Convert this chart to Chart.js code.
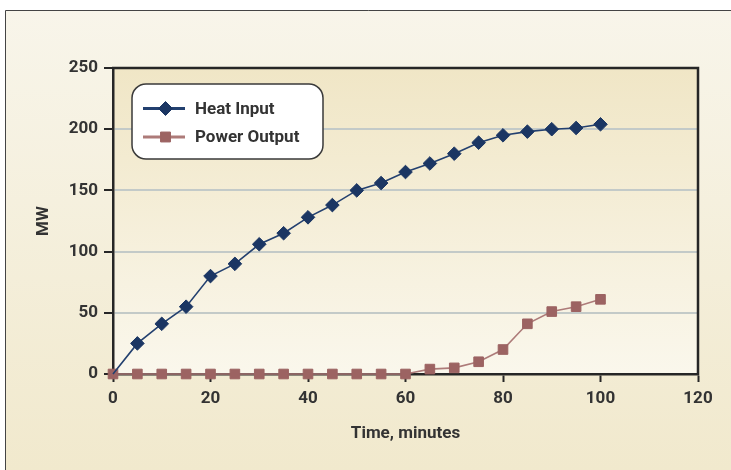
<!DOCTYPE html>
<html>
<head>
<meta charset="utf-8">
<script src="https://cdn.jsdelivr.net/npm/chart.js@4/dist/chart.umd.min.js"></script>
<style>
  html, body { margin: 0; padding: 0; background: #ffffff; }
  #wrap { width: 731px; height: 470px; position: relative; }
</style>
</head>
<body>
<div id="wrap"><canvas id="c" width="731" height="470"></canvas></div>
<script>
const timeMinutes = [0,5,10,15,20,25,30,35,40,45,50,55,60,65,70,75,80,85,90,95,100];
const heatInput   = [0,25,41,55,80,90,106,115,128,138,150,156,165,172,180,189,195,198,200,201,204];
const powerOutput = [0,0,0,0,0,0,0,0,0,0,0,0,0,4,5,10,20,41,51,55,61];
const seriesNames = ['Heat Input', 'Power Output'];
const xTicks = [0,20,40,60,80,100,120];
const yTicks = [0,50,100,150,200,250];
const xTitle = 'Time, minutes';
const yTitle = 'MW';

const FONT = "Roboto, 'Liberation Sans', sans-serif";
const TXT = '#333333';
const HEAT = '#1b3663';
const HEAT_LINE = '#23406f';
const POWER = '#9c6362';
const POWER_LINE = '#ad7b79';

const bgPlugin = {
  id: 'bg',
  beforeDraw(chart) {
    const ctx = chart.ctx, W = chart.width, H = chart.height, a = chart.chartArea;
    ctx.save();
    ctx.fillStyle = '#ffffff';
    ctx.fillRect(0, 0, W, H);
    const g = ctx.createLinearGradient(0, 10, 0, H);
    g.addColorStop(0, '#f8f5ea');
    g.addColorStop(1, '#f1e9cd');
    ctx.fillStyle = g;
    ctx.fillRect(5, 10, W, H);
    ctx.strokeStyle = '#444444';
    ctx.lineWidth = 1;
    ctx.beginPath();
    ctx.moveTo(5.5, H + 5); ctx.lineTo(5.5, 10.5); ctx.lineTo(W + 5, 10.5);
    ctx.stroke();
    const pg = ctx.createLinearGradient(0, a.top, 0, a.bottom);
    pg.addColorStop(0, '#f0e6c6');
    pg.addColorStop(1, '#faf7ec');
    ctx.fillStyle = pg;
    ctx.fillRect(a.left, a.top, a.right - a.left, a.bottom - a.top);
    ctx.restore();
  },
  beforeDatasetsDraw(chart) {
    const ctx = chart.ctx, a = chart.chartArea;
    ctx.save();
    ctx.strokeStyle = '#262626';
    ctx.lineWidth = 2.5;
    ctx.beginPath();
    ctx.moveTo(a.left - 1, a.top);
    ctx.lineTo(a.right, a.top);
    ctx.lineTo(a.right, a.bottom + 1);
    ctx.stroke();
    ctx.restore();
  },
  afterDatasetsDraw(chart) {
    const ctx = chart.ctx;
    const bx = 132, by = 84, bw = 191, bh = 75, r = 14;
    ctx.save();
    ctx.beginPath();
    ctx.moveTo(bx + r, by);
    ctx.lineTo(bx + bw - r, by);
    ctx.arcTo(bx + bw, by, bx + bw, by + r, r);
    ctx.lineTo(bx + bw, by + bh - r);
    ctx.arcTo(bx + bw, by + bh, bx + bw - r, by + bh, r);
    ctx.lineTo(bx + r, by + bh);
    ctx.arcTo(bx, by + bh, bx, by + bh - r, r);
    ctx.lineTo(bx, by + r);
    ctx.arcTo(bx, by, bx + r, by, r);
    ctx.closePath();
    ctx.fillStyle = '#ffffff';
    ctx.fill();
    ctx.strokeStyle = '#3a3a3a';
    ctx.lineWidth = 1.5;
    ctx.stroke();
    const rows = [108.5, 137];
    chart.data.datasets.forEach((ds, i) => {
      const y = rows[i];
      ctx.strokeStyle = ds.borderColor;
      ctx.lineWidth = 3;
      ctx.beginPath();
      ctx.moveTo(143, y); ctx.lineTo(185, y);
      ctx.stroke();
      const opts = {
        pointStyle: ds.pointStyle,
        radius: 7,
        borderWidth: 1,
        rotation: 0
      };
      ctx.fillStyle = ds.pointBackgroundColor;
      ctx.strokeStyle = ds.pointBorderColor;
      ctx.lineWidth = 1;
      Chart.helpers.drawPoint(ctx, opts, 165.5, y);
      ctx.fillStyle = TXT;
      ctx.font = 'bold 17px ' + FONT;
      ctx.textAlign = 'left';
      ctx.textBaseline = 'middle';
      ctx.fillText(ds.label, 195, y + 1);
    });
    ctx.restore();
  }
};

new Chart(document.getElementById('c'), {
  type: 'line',
  data: {
    datasets: [
      {
        label: seriesNames[0],
        data: timeMinutes.map((t, i) => ({ x: t, y: heatInput[i] })),
        borderColor: HEAT_LINE,
        borderWidth: 1.6,
        pointStyle: 'rectRot',
        pointRadius: (c) => c.dataIndex === 0 ? 0 : 6.8,
        pointBackgroundColor: HEAT,
        pointBorderColor: HEAT,
        pointBorderWidth: 1,
        tension: 0,
        clip: false
      },
      {
        label: seriesNames[1],
        data: timeMinutes.map((t, i) => ({ x: t, y: powerOutput[i] })),
        borderColor: POWER_LINE,
        borderWidth: 1.6,
        pointStyle: 'rect',
        pointRadius: 6.8,
        pointBackgroundColor: POWER,
        pointBorderColor: POWER,
        pointBorderWidth: 1,
        tension: 0,
        clip: false
      }
    ]
  },
  options: {
    responsive: false,
    animation: false,
    devicePixelRatio: 1,
    layout: { padding: { left: 0, top: 68, right: 33, bottom: 0 } },
    plugins: {
      legend: { display: false },
      tooltip: { enabled: false }
    },
    scales: {
      x: {
        type: 'linear',
        min: 0, max: 120,
        afterBuildTicks: (s) => { s.ticks = xTicks.map(v => ({ value: v })); },
        afterFit: (s) => { s.height = 96; },
        ticks: { color: TXT, font: { family: FONT, size: 17, weight: 'bold' }, padding: 7, maxRotation: 0 },
        grid: { drawOnChartArea: false, drawTicks: true, tickLength: 8, tickColor: '#262626', tickWidth: 2, color: '#262626' },
        border: { display: true, color: '#262626', width: 2.5 },
        title: { display: true, text: xTitle, color: TXT, font: { family: FONT, size: 17, weight: 'bold' }, padding: { top: 0, bottom: 26 } }
      },
      y: {
        type: 'linear',
        min: 0, max: 250,
        afterBuildTicks: (s) => { s.ticks = yTicks.map(v => ({ value: v })); },
        afterFit: (s) => { s.width = 113; },
        ticks: { color: TXT, font: { family: FONT, size: 17, weight: 'bold' }, padding: 6 },
        grid: { drawOnChartArea: true, drawTicks: true, tickLength: 9, tickColor: '#262626', tickWidth: 2, color: '#c3cac8', lineWidth: 2 },
        border: { display: true, color: '#262626', width: 2.5 },
        title: { display: true, text: yTitle, color: TXT, font: { family: FONT, size: 17, weight: 'bold' }, padding: { top: 34, bottom: 0 } }
      }
    }
  },
  plugins: [bgPlugin]
});
</script>
</body>
</html>
